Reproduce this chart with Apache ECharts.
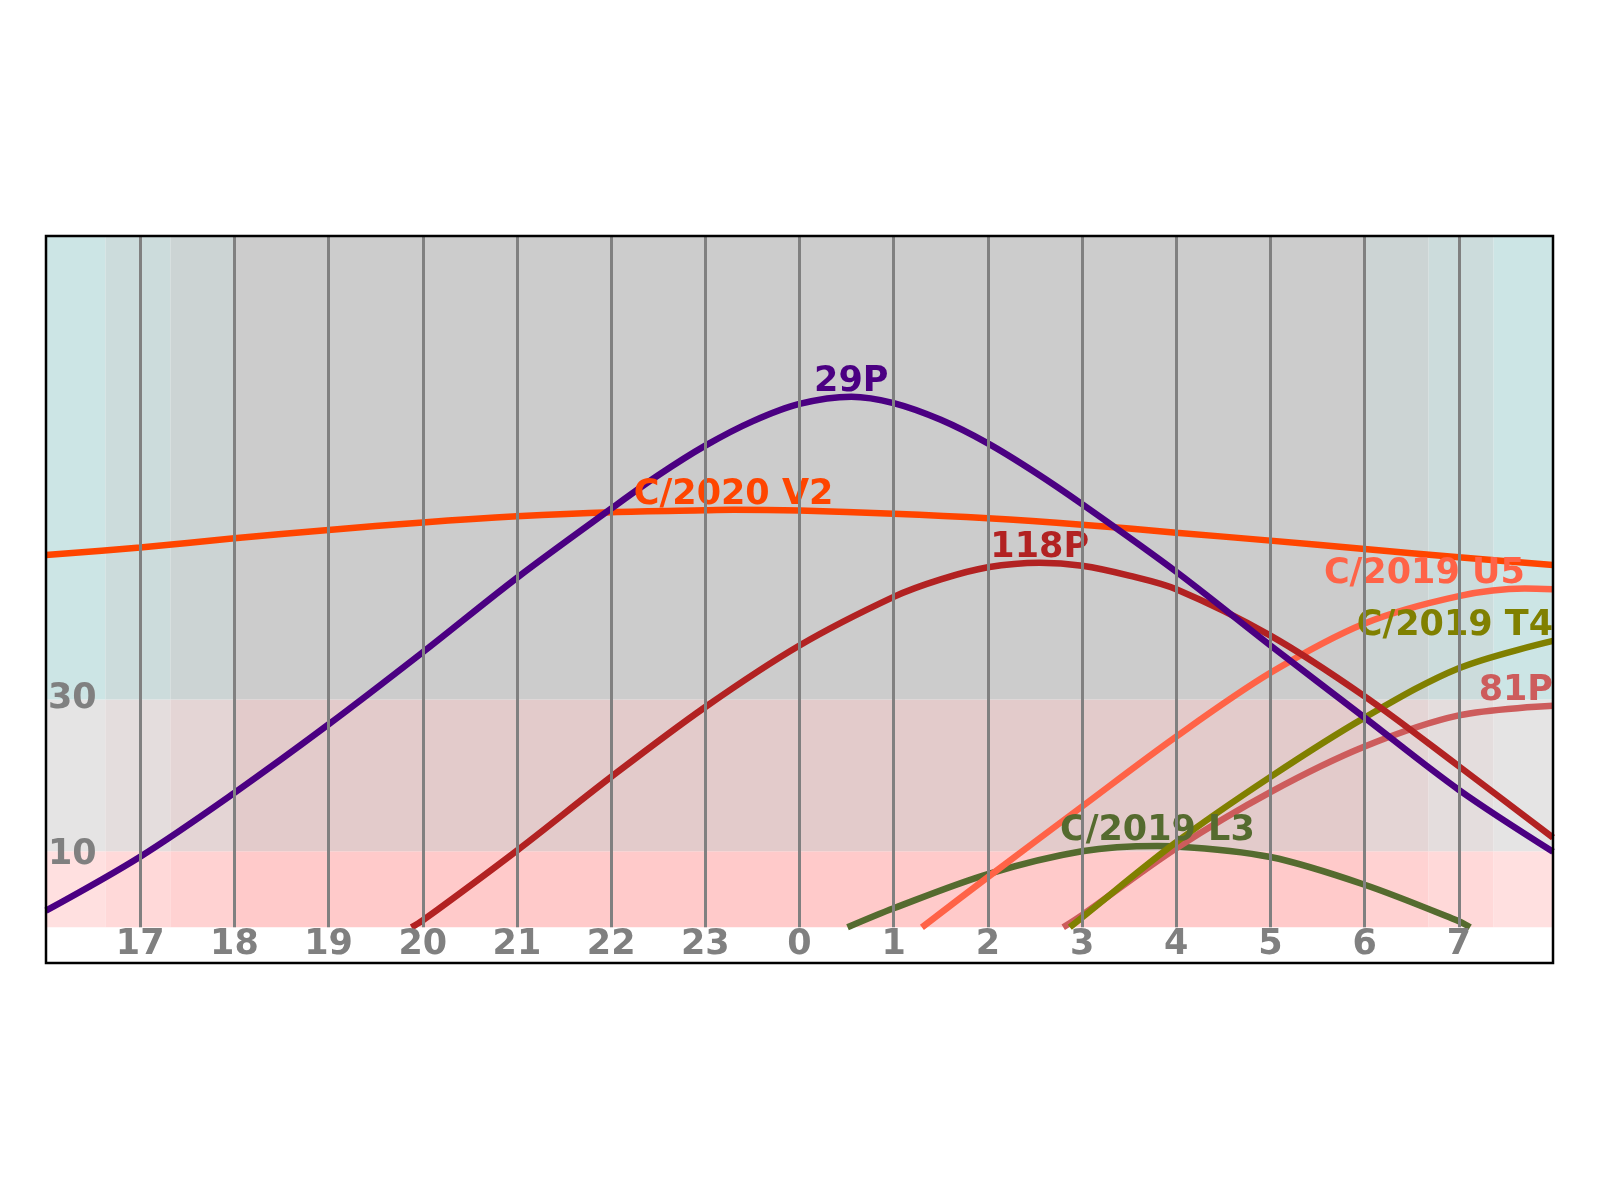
<!DOCTYPE html>
<html><head><meta charset="utf-8">
<script src="https://cdn.jsdelivr.net/npm/echarts@6/dist/echarts.min.js"></script>
<style>html,body{margin:0;padding:0;background:#fff}#c{width:1600px;height:1200px}</style>
</head><body><div id="c"></div><script>
// ---- data ----
const cometNames = ['29P', 'C/2020 V2', '118P', 'C/2019 U5', 'C/2019 T4', '81P', 'C/2019 L3'];
const alt29P = [[16,2.2],[17,9.3],[18,17.7],[19,26.7],[20,36.2],[21,46.0],[22,55.1],[22.5,59.5],[23,63.4],[23.5,66.6],[24,68.9],[24.55,69.85],[25,69.0],[25.5,66.8],[26,63.7],[26.5,59.9],[27,55.7],[28,46.8],[29,37.1],[30,27.6],[31,18.1],[32,9.95]];
const altV2 = [[16,49.0],[17,50.0],[18,51.2],[19,52.3],[20,53.3],[21,54.1],[22,54.65],[23,54.9],[23.3,54.95],[24,54.85],[25,54.45],[26,53.85],[27,53.0],[28,51.95],[29,50.9],[30,49.8],[31,48.7],[32,47.7]];
const alt118P = [[19.88,0],[20,0.9],[21,10.1],[22,19.8],[23,29.0],[24,37.1],[25,43.5],[25.5,45.8],[26,47.4],[26.55,48.0],[27,47.6],[27.5,46.3],[28,44.5],[29,38.4],[30,30.4],[31,21.2],[32,11.8]];
const altU5 = [[25.30,0],[26,6.6],[27,15.9],[28,25.1],[29,33.5],[30,40.0],[31,43.6],[31.7,44.6],[32,44.5]];
const altT4 = [[26.87,0],[27,1.3],[28,11.2],[29,19.8],[30,27.6],[31,34.1],[32,37.7]];
const alt81P = [[26.80,0],[27,1.6],[28,10.4],[29,17.8],[30,23.8],[31,27.9],[32,29.15]];
const altL3 = [[24.51,0],[25,2.5],[26,7.0],[27,10.0],[27.8,10.7],[28,10.65],[29,9.25],[30,5.6],[31,0.8],[31.12,0]];
const tickHours = [17,18,19,20,21,22,23,24,25,26,27,28,29,30,31];
const tickLabels = ['17','18','19','20','21','22','23','0','1','2','3','4','5','6','7'];
const altTickValues = [10, 30];
const altTickLabels = ['10', '30'];
const twilightBounds = [16, 16.63, 17.32, 18.0, 30.01, 30.68, 31.37, 32];
const twilightKinds = [0, 1, 2, 3, 2, 1, 0]; // day, civil, nautical, night
const altBands = [0, 10, 30, 91];

// ---- styles ----
const X_MIN = 16, X_MAX = 32, Y_MIN = -4.7, Y_MAX = 91;
const FONT = 'DejaVu Sans';
const bandColors = [ // rows: 0-10, 10-30, 30-top ; cols: day, civil, nautical, night
  ['#FFE0E0', '#FFD9D9', '#FFD2D2', '#FFCACA'],
  ['#E5E4E4', '#E4DDDD', '#E4D5D5', '#E3CBCB'],
  ['#CCE5E5', '#CCDCDC', '#CCD4D4', '#CCCCCC']
];
const seriesData = [alt29P, altV2, alt118P, altU5, altT4, alt81P, altL3];
const seriesColors = ['#4B0082', '#FF4500', '#B22222', '#FF6347', '#808000', '#CD5C5C', '#556B2F'];
const labelAlign = ['center', 'center', 'center', 'right', 'right', 'right', 'center'];
const drawOrder = [6, 5, 4, 3, 2, 1, 0];
const altLabelPad = [[8, 0, 0, 0], [0, 0, 0, 0]];

// background cells
const areaData = [];
for (let r = 0; r < altBands.length - 1; r++) {
  for (let c = 0; c < twilightBounds.length - 1; c++) {
    areaData.push([
      { coord: [twilightBounds[c], altBands[r]], itemStyle: { color: bandColors[r][twilightKinds[c]] } },
      { coord: [twilightBounds[c + 1], altBands[r + 1]] }
    ]);
  }
}
const gridLineData = tickHours.map(h => [{ coord: [h, 0] }, { coord: [h, Y_MAX] }]);

const series = [
  { type: 'scatter', data: [], z: 1, silent: true,
    markArea: { silent: true, data: areaData, itemStyle: { opacity: 1 }, label: { show: false } } },
  { type: 'scatter', data: [], z: 1, silent: true,
    markLine: { silent: true, symbol: ['none', 'none'], data: gridLineData, label: { show: false },
      lineStyle: { color: '#808080', width: 3, type: 'solid', opacity: 1 } } }
];
drawOrder.forEach(i => {
  series.push({
    type: 'line', name: cometNames[i], data: seriesData[i], smooth: 0.33, showSymbol: false,
    lineStyle: { color: seriesColors[i], width: 6.5 }, itemStyle: { color: seriesColors[i] },
    z: 2, silent: true, clip: true
  });
});
// labels at each curve's highest point
const labelItems = seriesData.map((d, i) => {
  let best = d[0];
  d.forEach(p => { if (p[1] > best[1]) best = p; });
  return { value: best, name: cometNames[i],
    label: { color: seriesColors[i], align: labelAlign[i] } };
});
series.push({
  type: 'scatter', data: labelItems, symbolSize: 0, z: 4, silent: true,
  itemStyle: { opacity: 1 },
  label: { show: true, position: 'inside', offset: [0, -15], formatter: p => p.name, opacity: 1,
    fontFamily: FONT, fontWeight: 'bold', fontSize: 35, verticalAlign: 'middle' }
});

const altRich = {};
altLabelPad.forEach((p, i) => {
  altRich['s' + i] = { padding: p, color: '#808080', fontFamily: FONT, fontWeight: 'bold', fontSize: 35 };
});

const chart = echarts.init(document.getElementById('c'), null, { renderer: 'canvas' });
chart.setOption({
  animation: false,
  backgroundColor: '#ffffff',
  grid: { left: 46, top: 236, width: 1507, height: 727, show: true, borderColor: '#000', borderWidth: 2.5, z: 10, backgroundColor: 'transparent' },
  xAxis: {
    type: 'value', min: X_MIN, max: X_MAX, z: 5,
    axisLine: { show: false }, axisTick: { show: false }, splitLine: { show: false },
    axisLabel: { inside: true, margin: 18, verticalAlign: 'middle', customValues: tickHours,
      formatter: v => tickLabels[tickHours.indexOf(Math.round(v))] || '',
      color: '#808080', fontFamily: FONT, fontWeight: 'bold', fontSize: 35 }
  },
  yAxis: {
    type: 'value', min: Y_MIN, max: Y_MAX, z: 5,
    axisLine: { show: false }, axisTick: { show: false }, splitLine: { show: false },
    axisLabel: { inside: true, margin: 2, customValues: altTickValues,
      formatter: v => { const i = altTickValues.indexOf(Math.round(v)); return i < 0 ? '' : '{s' + i + '|' + altTickLabels[i] + '}'; },
      rich: altRich,
      color: '#808080', fontFamily: FONT, fontWeight: 'bold', fontSize: 35 }
  },
  series: series
});
</script></body></html>
